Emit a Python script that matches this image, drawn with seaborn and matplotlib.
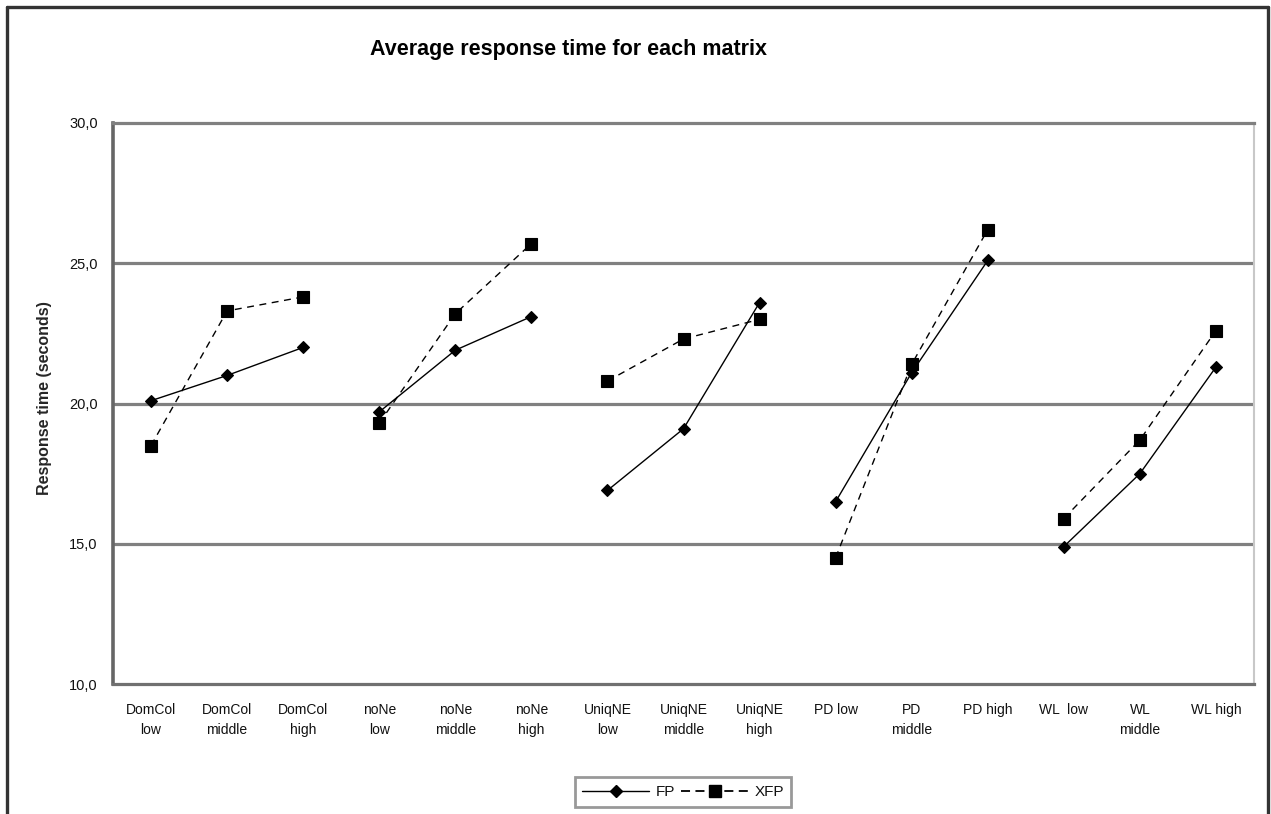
import matplotlib
matplotlib.use("Agg")
import matplotlib.pyplot as plt
from matplotlib.lines import Line2D
import numpy as np
import pandas as pd
import seaborn as sns

# ── Data ──
groups = ["DomCol", "noNe", "UniqNE", "PD", "WL"]
levels = ["low", "middle", "high"]
tick_labels = [
    "DomCol\nlow", "DomCol\nmiddle", "DomCol\nhigh",
    "noNe\nlow", "noNe\nmiddle", "noNe\nhigh",
    "UniqNE\nlow", "UniqNE\nmiddle", "UniqNE\nhigh",
    "PD low", "PD\nmiddle", "PD high",
    "WL  low", "WL\nmiddle", "WL high",
]
fp_values = [20.1, 21.0, 22.0, 19.7, 21.9, 23.1, 16.9, 19.1, 23.6, 16.5, 21.1, 25.1, 14.9, 17.5, 21.3]
xfp_values = [18.5, 23.3, 23.8, 19.3, 23.2, 25.7, 20.8, 22.3, 23.0, 14.5, 21.4, 26.2, 15.9, 18.7, 22.6]

rows = []
for i, (fp, xfp) in enumerate(zip(fp_values, xfp_values)):
    g = groups[i // 3]
    rows.append({"pos": i, "group": g, "series": "FP", "value": fp})
    rows.append({"pos": i, "group": g, "series": "XFP", "value": xfp})
df = pd.DataFrame(rows)

sns.set_style("white")
plt.rcParams["font.family"] = ["Liberation Sans", "DejaVu Sans"]

fig = plt.figure(figsize=(12.71, 8.14), dpi=100)
ax = fig.add_axes([113 / 1271, 1 - 684 / 814, (1254 - 113) / 1271, (684 - 123) / 814])

sns.lineplot(
    data=df, x="pos", y="value", style="series", units="group", estimator=None,
    color="black", linewidth=1.0, legend=False, ax=ax,
    markers={"FP": "D", "XFP": "s"}, dashes={"FP": "", "XFP": (5, 4)},
    markersize=6.5, markeredgecolor="black", markeredgewidth=0.8,
)
# bigger squares for XFP
for line in ax.get_lines():
    if line.get_marker() == "s":
        line.set_markersize(8)

ax.set_xlim(-0.5, 14.5)
ax.set_ylim(10, 30)
ax.set_yticks([10, 15, 20, 25, 30])
ax.set_yticklabels(["10,0", "15,0", "20,0", "25,0", "30,0"])
ax.set_xticks(range(15))
ax.set_xticklabels(tick_labels, linespacing=1.5)
ax.set_xticks(np.arange(-0.5, 15, 1), minor=True)
ax.tick_params(axis="x", which="major", length=0, pad=14, labelsize=10)
ax.tick_params(axis="x", which="minor", length=4, width=1.5, color="#707070", direction="out")
ax.tick_params(axis="y", length=5, width=1.5, color="#707070", direction="out", labelsize=10.5, pad=6)
for lbl in ax.get_xticklabels() + ax.get_yticklabels():
    lbl.set_color("#111111")

ax.set_xlabel("")
ax.set_ylabel("Response time (seconds)", fontsize=11.5, fontweight="bold")
ax.yaxis.set_label_coords(-0.0535, 0.51)

for yv in [15, 20, 25]:
    ax.axhline(yv, color="#808080", linewidth=2.3, zorder=0)

ax.spines["left"].set_color("#666666")
ax.spines["left"].set_linewidth(2.6)
ax.spines["bottom"].set_color("#707070")
ax.spines["bottom"].set_linewidth(2.3)
ax.spines["top"].set_color("#808080")
ax.spines["top"].set_linewidth(2.3)
ax.spines["right"].set_color("#c8c8c8")
ax.spines["right"].set_linewidth(1.5)

fig.text(568 / 1271, 1 - 50 / 814, "Average response time for each matrix",
         ha="center", va="center", fontsize=15.5, fontweight="bold", color="black")

handles = [
    Line2D([], [], color="black", linewidth=1.0, marker="D", markersize=6,
           markerfacecolor="black", markeredgecolor="black"),
    Line2D([], [], color="black", linewidth=1.3, linestyle=(0, (5, 3)), marker="s",
           markersize=8, markerfacecolor="black", markeredgecolor="black"),
]
leg = fig.legend(handles, ["FP", "XFP"], loc="center", bbox_to_anchor=(683 / 1271, 1 - 792 / 814),
                 ncol=2, frameon=True, fancybox=False, shadow=False, fontsize=11,
                 handlelength=4.4, handletextpad=0.4, columnspacing=0.4, borderpad=0.5)
leg.get_frame().set_edgecolor("#808080")
leg.get_frame().set_linewidth(2.0)
for t in leg.get_texts():
    t.set_color("#111111")

# outer chart border
border_kw = dict(color="#333333", linewidth=2.4, transform=fig.transFigure)
fig.add_artist(Line2D([7 / 1271, 7 / 1271], [0, 1 - 7 / 814], **border_kw))
fig.add_artist(Line2D([7 / 1271, 1268 / 1271], [1 - 7 / 814, 1 - 7 / 814], **border_kw))
fig.add_artist(Line2D([1268 / 1271, 1268 / 1271], [0, 1 - 7 / 814], **border_kw))

fig.savefig("out.png", dpi=100)
